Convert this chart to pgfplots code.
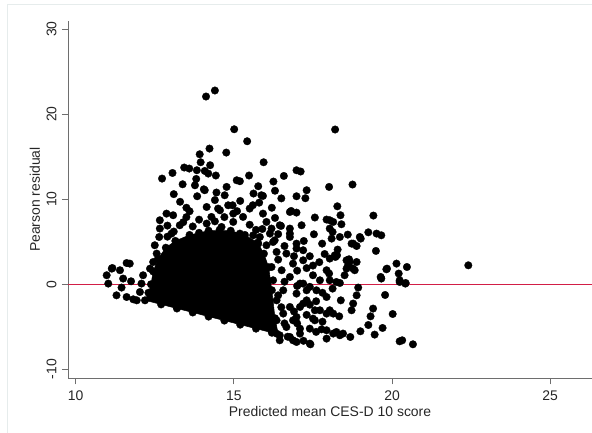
\documentclass[border=0pt]{standalone}
\usepackage{pgfplots}
\pgfplotsset{compat=1.18}
\usepackage{fontspec}
\setmainfont{Liberation Sans}
\definecolor{axgray}{RGB}{110,110,110}
\definecolor{refred}{RGB}{210,30,70}
\definecolor{framegray}{RGB}{230,236,236}
\begin{document}
\begin{tikzpicture}
\begin{axis}[
  scale only axis, width=524bp, height=357.6bp,
  xmin=9.757, xmax=26.32, ymin=-11.06, ymax=31.0,
  axis x line*=bottom, axis y line*=left,
  axis line style={axgray, line width=1bp},
  tick style={axgray, line width=1bp},
  tick align=outside, major tick length=6bp,
  xtick={10,15,20,25}, ytick={-10,0,10,20,30},
  /pgf/number format/assume math mode=true,
  ticklabel style={font=\fontsize{14}{16}\selectfont, text=black!85},
  xticklabel style={yshift=-3bp},
  yticklabel style={xshift=-2bp, rotate=90, anchor=south},
  label style={font=\fontsize{14}{16}\selectfont, text=black!85},
  xlabel={Predicted mean CES-D 10 score},
  ylabel={Pearson residual},
  xlabel style={at={(axis description cs:0.5,-0.0934)}, anchor=center},
  ylabel style={at={(axis description cs:-0.063,0.5)}, anchor=center},
]
% reference line
\addplot[refred, line width=1.2bp] coordinates {(9.757,0) (26.32,0)};
% dense core of overlapping points
\addplot[fill=black, draw=black, line width=0.5bp] coordinates {
(12.19,-1.89) (12.3,-1.0) (12.38,0) (12.45,1.5) (12.6,3.0) (12.85,4.3) (13.15,5.1)
(13.6,5.8) (14.2,6.3) (14.9,6.3) (15.35,5.8) (15.75,4.9) (15.95,3.6) (16.1,2.0)
(16.2,-0.7) (16.3,-4.0) (16.4,-5.8) (16.2,-5.70) (15.7,-5.22) (15.2,-4.75)
(14.7,-4.27) (14.2,-3.80) (13.7,-3.32) (13.2,-2.85) (12.7,-2.37)} --cycle;
% individual points
\addplot[only marks, mark=*, mark size=3.8bp, mark options={fill=black, draw=black, line width=0.3bp}] coordinates {
(14.12,22.08) (14.40,22.79) (15.01,18.23) (15.42,16.82) (18.20,18.20)
(14.23,15.96) (13.92,15.29) (14.76,15.49) (15.94,14.35) (13.95,14.35)
(14.25,14.00) (13.43,13.73) (13.59,13.61) (13.83,13.41) (14.08,13.33)
(13.06,13.09) (12.73,12.43) (14.19,13.02) (14.43,12.79) (13.81,12.39)
(15.48,12.79) (15.09,12.23) (15.19,12.12) (14.77,11.45) (16.25,12.08)
(16.58,12.74) (16.98,13.41) (17.11,13.26) (13.38,11.76) (18.01,11.45)
(15.77,11.53) (13.84,10.35) (14.05,11.17) (14.45,10.79) (14.71,10.47)
(15.62,10.67) (15.92,10.39) (17.30,11.06) (17.26,10.12) (16.98,10.35)
(18.75,11.73) (18.27,9.17) (18.37,8.12) (18.40,7.06) (19.41,8.08)
(17.56,7.85) (17.53,5.88) (17.79,4.78) (18.03,7.53) (17.93,7.61)
(18.12,6.15) (18.09,5.37) (18.60,5.84) (18.77,4.78) (18.88,4.50)
(19.01,5.37) (19.25,6.11) (19.51,5.96) (19.66,5.76) (19.49,3.92)
(18.26,3.41) (18.66,2.62) (18.88,2.62) (19.84,1.84) (20.14,2.43)
(17.21,5.09) (16.77,6.55) (16.49,6.86) (16.81,8.62) (16.98,8.43)
(15.92,8.31) (13.60,8.59) (12.87,8.31) (13.08,8.12) (14.14,9.09)
(14.50,8.90) (14.82,9.29) (14.96,9.29) (12.66,7.53) (12.66,6.55)
(12.64,5.56) (12.50,4.59) (12.56,3.61) (12.45,2.62) (11.14,1.84)
(11.61,2.50) (11.71,2.43) (11.40,1.65)
(18.28,4.08) (17.87,3.56) (18.21,3.21) (18.64,2.94) (18.77,1.84)
(18.56,1.84) (19.82,1.76) (20.47,2.03) (19.64,0.86) (20.21,1.26)
(20.24,0.47) (20.43,0.15) (18.01,1.26) (18.35,0.15) (18.93,-0.39)
(18.88,-1.30) (18.77,-2.27) (19.78,-1.26) (19.40,-2.86) (19.32,-3.77)
(19.25,-4.79) (20.02,-3.50) (19.70,-5.14) (19.45,-5.92) (19.00,-5.53)
(18.68,-6.20) (18.45,-5.80) (18.24,-5.61) (17.93,-5.41) (17.77,-5.30)
(18.38,-1.89) (18.12,-0.51) (17.93,-3.45) (18.14,-3.45) (18.33,-3.77)
(17.56,-3.06) (17.56,-4.24) (17.40,-6.98) (17.93,-6.39) (20.24,-6.71)
(20.66,-7.06) (22.41,2.23) (20.42,0.08) (20.32,-6.59)
(17.42,-7.06) (18.14,-5.80) (18.35,-6.00) (18.72,-3.06) (17.93,-1.50)
(18.03,-3.06) (17.72,-3.06) (17.50,-4.04) (17.40,-5.22) (17.09,-5.80)
(16.87,-6.59) (16.45,-6.00) (16.66,-5.03) (17.30,-1.89) (17.09,-2.67)
(16.87,-4.24) (17.61,-0.71) (17.19,0.08) (17.50,1.06) (17.72,0.47)
(17.93,1.65) (18.03,0.47) (18.24,0.27) (18.50,1.06) (18.61,2.23)
(18.82,1.65) (19.66,0.67) (20.24,0.27) (18.19,3.41) (18.03,3.02)
(18.35,5.56) (18.03,6.55) (18.14,7.33) (16.98,4.20) (16.77,5.96)
(16.45,6.94) (16.24,4.97) (16.03,7.33) (16.14,5.96) (15.82,5.56)
(18.56,2.82) (18.72,4.78) (18.98,5.56)
(10.98,1.06) (11.03,0.08) (11.16,1.91) (11.50,0.67) (11.75,0.35)
(11.45,-0.39) (11.29,-1.30) (11.61,-1.50) (11.82,-1.77) (11.93,-1.89)
(12.08,0.08) (12.03,-0.91) (12.13,1.06) (12.35,1.84) (13.03,5.96)
(13.29,6.94) (13.29,4.78) (13.77,11.64)
(14.08,11.06) (15.87,10.47) (16.77,8.50) (14.56,8.70) (14.98,8.31)
(15.29,7.92) (14.29,7.92) (14.14,7.14) (14.61,6.74) (14.98,7.33)
(15.19,5.96) (15.61,5.76) (16.19,6.55) (17.14,6.94) (16.29,5.17)
(16.77,5.56) (16.98,4.78) (17.19,4.00) (15.77,4.78) (16.03,4.59)
(16.35,3.80) (16.66,3.61) (16.87,2.43) (17.19,2.82) (16.19,2.03)
(16.51,1.65) (16.77,0.86) (17.09,0.08) (16.24,0.47) (16.56,-0.71)
(16.98,-1.10) (17.30,-0.71) (16.35,-1.89) (16.77,-2.67) (17.19,-2.27)
(16.56,-3.45) (16.98,-3.85) (16.35,-4.24) (17.09,-5.22) (16.35,-5.80)
(16.77,-6.20) (16.45,-6.59) (16.98,-6.79)
(12.9,6.9) (13.4,7.3) (13.7,6.8) (13.9,7.6) (14.4,7.4) (14.7,7.9) (15.1,8.6)
(15.5,7.0) (15.7,6.4) (15.5,8.9) (16.3,7.8) (13.5,7.9) (12.9,5.6) (13.1,6.2)
(15.9,6.5) (16.4,5.9) (16.6,4.5) (16.4,2.9) (16.6,0.3) (16.4,-1.3) (16.5,-2.7)
(16.6,-4.6) (16.9,-3.2) (17.0,-0.2) (17.4,-0.3) (17.4,-2.4) (17.3,1.9) (17.0,1.6)
(16.9,3.3) (17.4,3.3) (17.5,2.2) (17.0,-4.6) (17.3,-3.6) (17.6,-5.6) (17.6,-2.0)
(17.8,-1.0) (17.7,2.6) (17.8,-4.4) (15.6,9.3) (16.2,9.0) (16.5,10.1) (13.3,9.7)
(13.1,10.6) (13.5,9.0) (14.4,9.9) (15.2,9.8) (15.8,9.6) (16.3,11.0)
(12.19,-1.89) (12.7,-2.37) (13.2,-2.85) (13.7,-3.32) (14.2,-3.80) (14.7,-4.27)
(15.2,-4.75) (15.7,-5.22) (16.2,-5.70) (16.7,-6.17) (17.2,-6.65)
(12.3,-1.0) (12.38,0) (12.45,1.5) (12.6,3.0) (12.85,4.3) (13.15,5.1)
(13.6,5.8) (13.9,6.05) (14.2,6.3) (14.55,6.4) (14.9,6.3) (15.35,5.8)
(15.75,4.9) (15.95,3.6) (16.1,2.0) (16.2,-0.7) (16.3,-4.0)
};
\end{axis}
\pgfresetboundingbox
\path[use as bounding box] ([xshift=-68bp,yshift=-54.7bp]current axis.south west) rectangle ([yshift=20.7bp]current axis.north east);
\draw[framegray, line width=1bp] ([xshift=-60bp,yshift=-54.7bp]current axis.south west) -- ([xshift=-60bp,yshift=15.7bp]current axis.north west) -- ([yshift=15.7bp]current axis.north east);
\end{tikzpicture}
\end{document}
